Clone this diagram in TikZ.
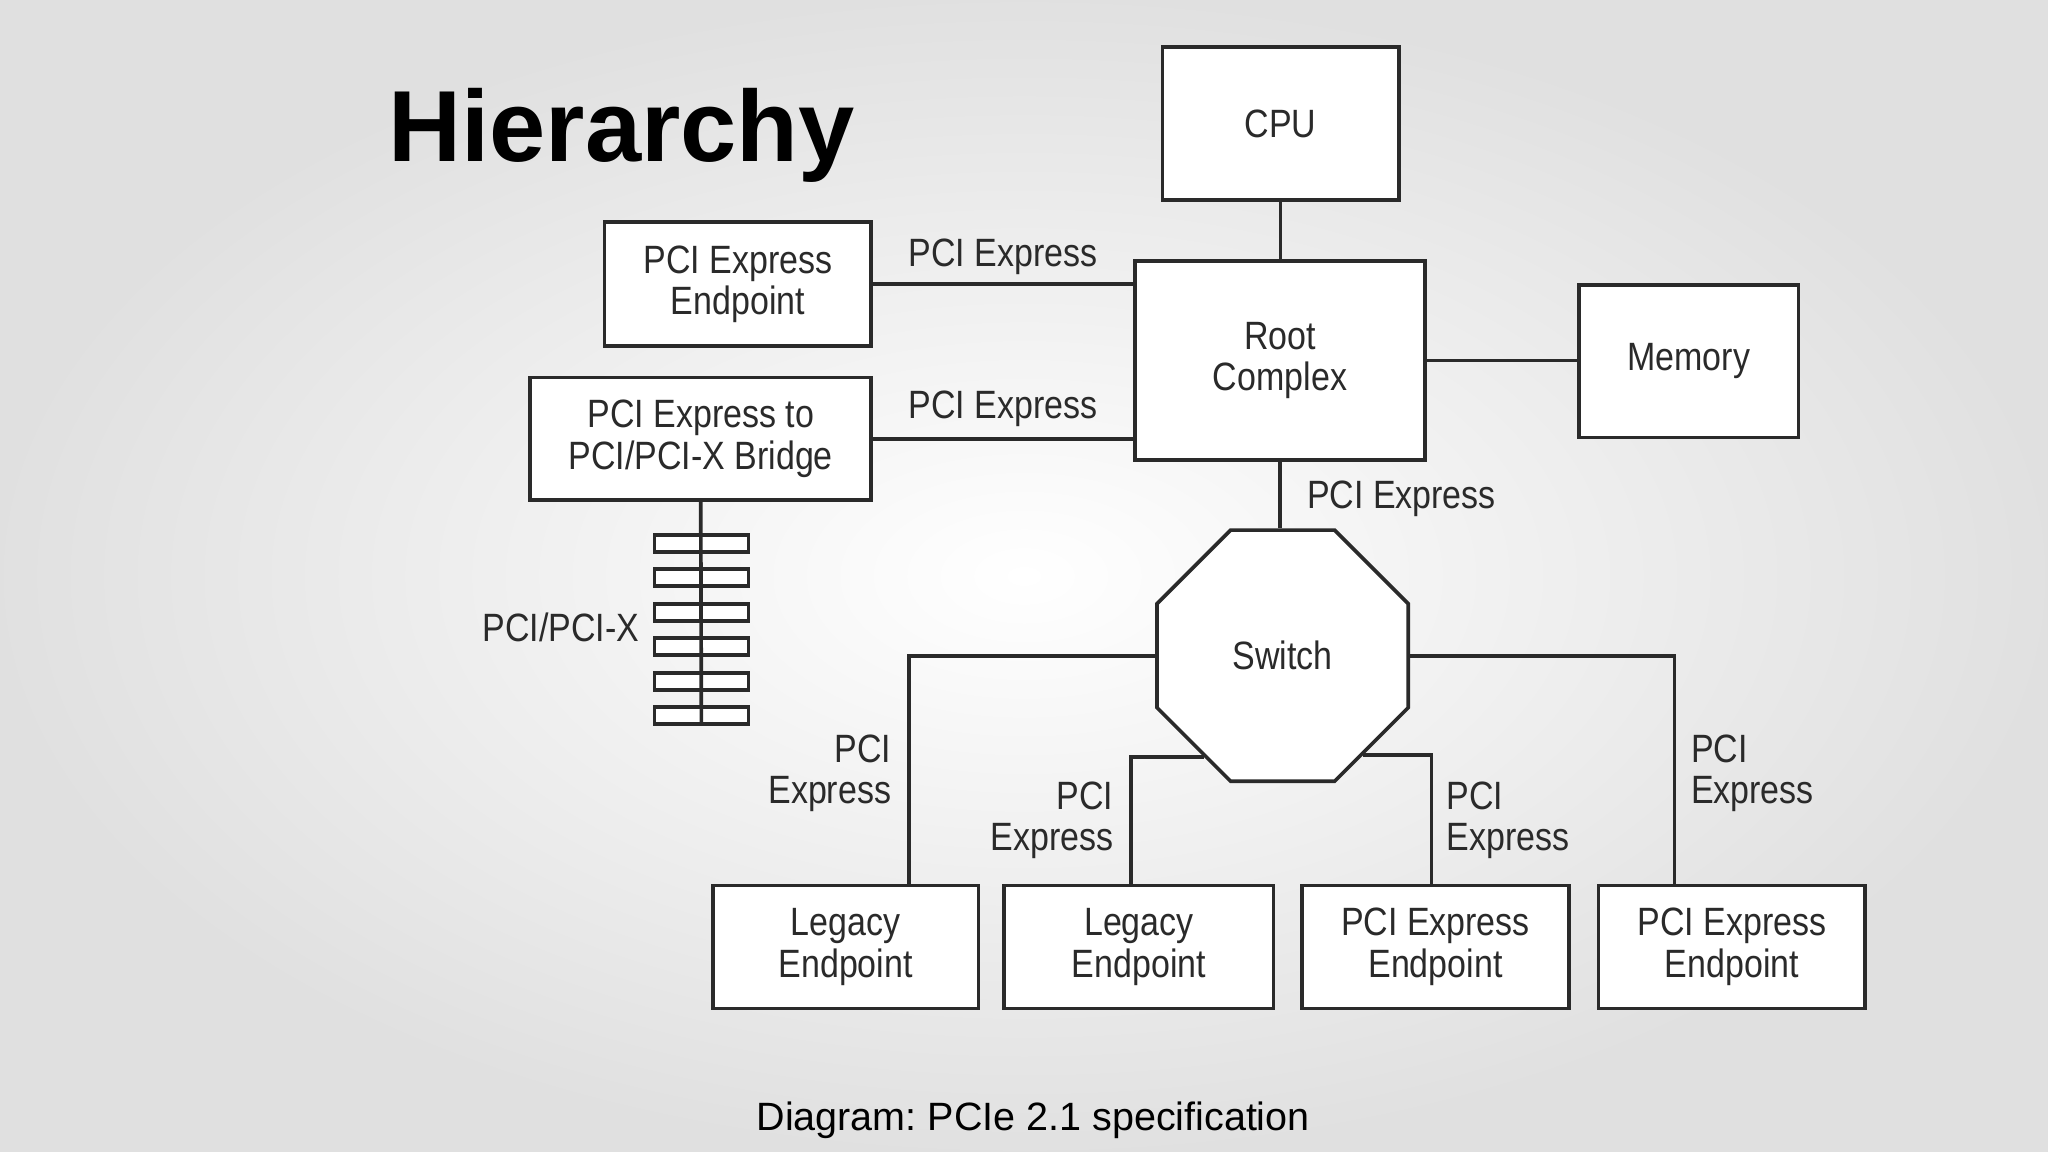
\documentclass[tikz,border=0pt]{standalone}
\usepackage{fontspec}
\setmainfont{Liberation Sans}
\newfontfamily\diag[FakeStretch=0.86]{Liberation Sans}
\usetikzlibrary{shapes.geometric}
\definecolor{ink}{HTML}{2A2A2A}
\frenchspacing
\tikzset{
  box/.style={draw=ink, line width=0.8pt, fill=white, inner sep=0pt, align=center, font=\diag\fontsize{8.6}{9}\selectfont, text=ink},
  lbl/.style={inner sep=0pt, align=center, font=\diag\fontsize{8.6}{9}\selectfont, text=ink},
  wire/.style={draw=ink, line width=0.8pt},
  busbar/.style={draw=ink, line width=0.8pt, fill=white, minimum width=0.72cm, minimum height=0.13cm, inner sep=0pt}
}
\begin{document}
\begin{tikzpicture}[x=0.01cm,y=-0.01cm]
\shade[inner color=white, outer color=black!12] (0,0) rectangle (1568,882);
\useasboundingbox (0,0) rectangle (1568,882);
\node[font=\bfseries\fontsize{22}{26}\selectfont, inner sep=0pt] (title) at (476,104) {Hierarchy};
\node[box, minimum width=1.81cm, minimum height=1.17cm] (cpu) at (980.5,94.5) {CPU};
\node[box, minimum width=2.22cm, minimum height=1.52cm] (rc) at (980,276) {Root\\Complex};
\node[box, minimum width=1.68cm, minimum height=1.17cm] (mem) at (1293,276.5) {Memory};
\node[box, minimum width=2.04cm, minimum height=0.95cm] (ep1) at (565,217.5) {PCI Express\\Endpoint};
\node[box, minimum width=2.61cm, minimum height=0.94cm] (br) at (536.5,336) {PCI Express to\\PCI/PCI-X Bridge};
\node[box, draw=ink, regular polygon, regular polygon sides=8, minimum size=2.08cm] (sw) at (982,502) {Switch};
\node[box, minimum width=2.03cm, minimum height=0.94cm] (l1) at (647.5,725) {Legacy\\Endpoint};
\node[box, minimum width=2.06cm, minimum height=0.94cm] (l2) at (872,725) {Legacy\\Endpoint};
\node[box, minimum width=2.04cm, minimum height=0.94cm] (e3) at (1099,725) {PCI Express\\Endpoint};
\node[box, minimum width=2.04cm, minimum height=0.94cm] (e4) at (1326,725) {PCI Express\\Endpoint};
% wires
\draw[wire] (cpu.south) -- (cpu.south |- rc.north);
\draw[wire] (ep1.east) -- (ep1.east -| rc.west);
\draw[wire] (br.east) -- (br.east -| rc.west);
\draw[wire] (rc.east) -- (rc.east -| mem.west);
\draw[wire] (rc.south) -- (rc.south |- sw.north);
\draw[wire] (sw.west) -| ([xshift=0.485cm]l1.north);
\draw[wire] (sw.232) -| ([xshift=-0.06cm]l2.north);
\draw[wire] (sw.309) -| ([xshift=-0.03cm]e3.north);
\draw[wire] (sw.east) -| ([xshift=-0.44cm]e4.north);
% labels
\node[lbl] (t1) at (768,197) {PCI Express};
\node[lbl] (t2) at (768,313) {PCI Express};
\node[lbl, anchor=west] (t3) at (1000,382) {PCI Express};
\node[lbl, align=right, anchor=east] (t4) at (683,592) {PCI\\Express};
\node[lbl, align=right, anchor=east] (t5) at (853,628) {PCI\\Express};
\node[lbl, align=left, anchor=west] (t6) at (1107,628) {PCI\\Express};
\node[lbl, align=left, anchor=west] (t7) at (1294,592) {PCI\\Express};
% PCI bus
\foreach \i/\y in {1/416,2/442,3/469,4/495,5/522,6/548} {
  \node[busbar] (b\i) at (537,\y) {};
}
\coordinate (busend) at (537,555);
\draw[wire] (br.south) -- (busend);
\node[lbl, anchor=east] (tb) at (490,480) {PCI/PCI-X};
\node[inner sep=0pt, font=\fontsize{8.6}{10}\selectfont] (cap) at (791,858) {Diagram: PCIe 2.1 specification};
\end{tikzpicture}
\end{document}
